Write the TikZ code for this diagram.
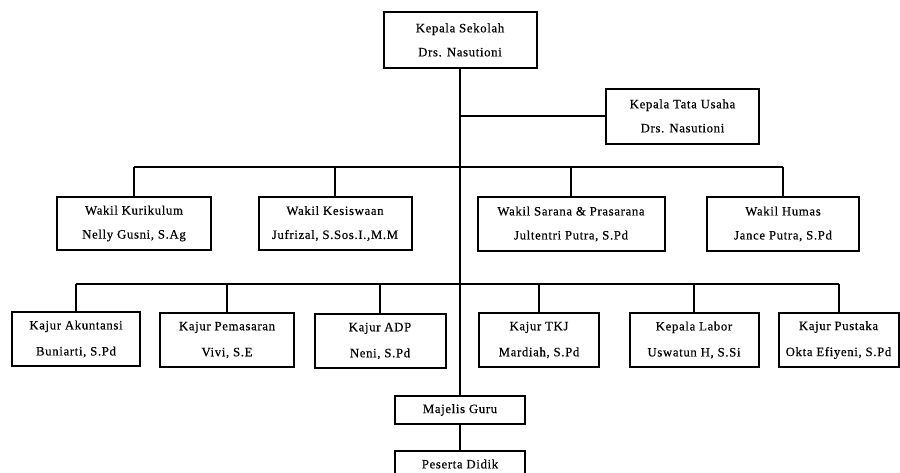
\documentclass[tikz,border=0pt]{standalone}
\usepackage{fontspec}
\setmainfont{Liberation Serif}[LetterSpace=5,FakeBold=0.4]
\begin{document}
\begin{tikzpicture}[x=1pt,y=-1pt,
  orgbox/.style={draw=black, line width=2pt, fill=white, align=center,
    inner sep=0pt, minimum height=54pt,
    font={\fontsize{12.8pt}{24pt}\selectfont}},
  kajur/.style={orgbox, font={\fontsize{12.8pt}{26pt}\selectfont}},
  link/.style={draw=black, line width=2pt}]
\useasboundingbox (0,0) rectangle (900,472);
\clip (0,0) rectangle (900,472);
% top
\node[orgbox, minimum width=153pt, minimum height=56pt] (ks) at (460,40) {Kepala Sekolah\\Drs. Nasutioni};
\node[orgbox, minimum width=153pt, minimum height=55pt] (ktu) at (682.5,116) {Kepala Tata Usaha\\Drs. Nasutioni};
% wakil row
\node[orgbox, minimum width=154pt, minimum height=53pt] (wk1) at (134,223.5) {Wakil Kurikulum\\Nelly Gusni, S.Ag};
\node[orgbox, minimum width=153pt, minimum height=53pt] (wk2) at (335,223.5) {Wakil Kesiswaan\\Jufrizal, S.Sos.I.,M.M};
\node[orgbox, minimum width=187pt, minimum height=54pt] (wk3) at (571,224) {Wakil Sarana \& Prasarana\\Jultentri Putra, S.Pd};
\node[orgbox, minimum width=152pt, minimum height=54pt] (wk4) at (783,224) {Wakil Humas\\Jance Putra, S.Pd};
% kajur row
\node[kajur, minimum width=128pt] (kj1) at (76,339) {Kajur Akuntansi\\Buniarti, S.Pd};
\node[kajur, minimum width=134pt] (kj2) at (227,340) {Kajur Pemasaran\\Vivi, S.E};
\node[kajur, minimum width=131pt] (kj3) at (380,341) {Kajur ADP\\Neni, S.Pd};
\node[kajur, minimum width=120pt] (kj4) at (539,340) {Kajur TKJ\\Mardiah, S.Pd};
\node[kajur, minimum width=129pt] (kj5) at (694,340) {Kepala Labor\\Uswatun H, S.Si};
\node[kajur, minimum width=120pt] (kj6) at (838.5,340) {Kajur Pustaka\\Okta Efiyeni, S.Pd};
% bottom
\node[orgbox, minimum width=130pt, minimum height=28pt] (mg) at (460,410) {Majelis Guru};
\node[orgbox, minimum width=130pt, minimum height=26pt] (pd) at (460,464) {Peserta Didik};
% bus coordinates
\coordinate (wbus) at (460,167);
\coordinate (kbus) at (460,284);
% connectors
\draw[link] (ks.south) -- (mg.north);
\draw[link] (ktu.west -| ks.south) -- (ktu.west);
\draw[link] (mg.south) -- (pd.north);
\draw[link] (wk1.north |- wbus) -- (wk4.north |- wbus);
\foreach \n in {wk1,wk2,wk3,wk4} {\draw[link] (\n.north |- wbus) -- (\n.north);}
\draw[link] (kj1.north |- kbus) -- (kj6.north |- kbus);
\foreach \n in {kj1,kj2,kj3,kj4,kj5,kj6} {\draw[link] (\n.north |- kbus) -- (\n.north);}
\end{tikzpicture}
\end{document}
